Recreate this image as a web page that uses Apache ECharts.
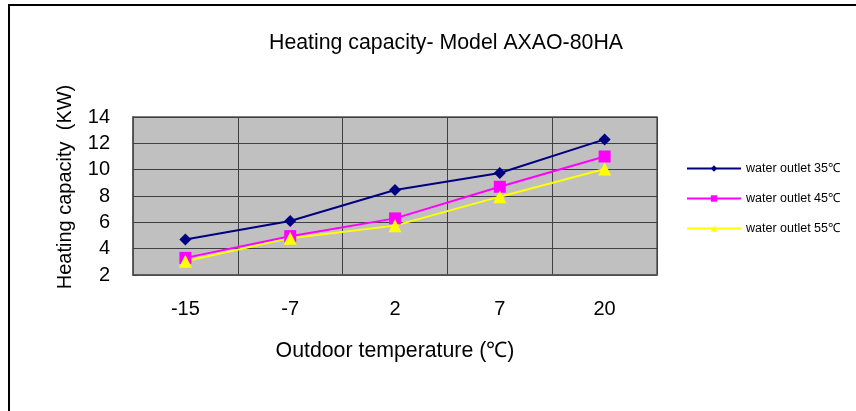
<!DOCTYPE html>
<html>
<head>
<meta charset="utf-8">
<style>
  html, body { margin: 0; padding: 0; background: #fff; }
  #chart { width: 856px; height: 411px; }
</style>
<script src="https://cdn.jsdelivr.net/npm/echarts@6/dist/echarts.min.js"></script>
</head>
<body>
<div id="chart"></div>
<script>
const categories = ['-15', '-7', '2', '7', '20']
const outlet35 = [4.7, 6.1, 8.45, 9.75, 12.3]
const outlet45 = [3.3, 4.95, 6.3, 8.7, 11.0]
const outlet55 = [3.05, 4.8, 5.75, 7.95, 10.05]

const chart = echarts.init(document.getElementById('chart'))
const font = 'Liberation Sans, Arial, sans-serif'

chart.setOption({
  animation: false,
  backgroundColor: '#fff',
  textStyle: { fontFamily: font, color: '#000' },
  graphic: [{
    type: 'rect',
    shape: { x: 9, y: 5, width: 900, height: 500 },
    style: { fill: 'none', stroke: '#000', lineWidth: 2 }
  }],
  title: {
    text: 'Heating capacity- Model AXAO-80HA',
    left: 441,
    textAlign: 'center',
    top: 28,
    textStyle: { fontFamily: font, fontSize: 21.3, fontWeight: 'normal', color: '#000' }
  },
  legend: {
    orient: 'vertical',
    left: 681,
    top: 157,
    itemWidth: 54,
    itemHeight: 8,
    itemGap: 17,
    textStyle: { fontFamily: font, fontSize: 12.5, color: '#000' },
    data: ['water outlet 35℃', 'water outlet 45℃', 'water outlet 55℃']
  },
  grid: {
    left: 133, right: 199, top: 117, bottom: 136,
    show: true,
    backgroundColor: '#c0c0c0',
    borderColor: '#555',
    borderWidth: 1.5
  },
  xAxis: {
    type: 'category',
    data: categories,
    boundaryGap: true,
    name: 'Outdoor temperature (℃)',
    nameLocation: 'middle',
    nameGap: 66,
    nameTextStyle: { fontFamily: font, fontSize: 21.3, color: '#000' },
    axisLine: { show: true, lineStyle: { color: '#555', width: 1.5 } },
    axisTick: { show: false },
    axisLabel: { margin: 24, fontSize: 20, color: '#000', fontFamily: font },
    splitLine: { show: true, interval: 0, lineStyle: { color: '#404040', width: 1 } }
  },
  yAxis: {
    type: 'value',
    min: 2,
    max: 14,
    interval: 2,
    name: 'Heating capacity  (KW)',
    nameLocation: 'middle',
    nameGap: 58,
    nameTextStyle: { fontFamily: font, fontSize: 20, color: '#000', padding: [0, 0, 0, 18] },
    axisLine: { show: true, lineStyle: { color: '#555', width: 1.5 } },
    axisTick: { show: true, inside: true, length: 4, lineStyle: { color: '#404040' } },
    axisLabel: { margin: 23, fontSize: 20, color: '#000', fontFamily: font },
    splitLine: { show: true, lineStyle: { color: '#404040', width: 1 } }
  },
  series: [
    {
      name: 'water outlet 35℃',
      type: 'line',
      data: outlet35,
      symbol: 'diamond',
      symbolSize: 12,
      itemStyle: { color: '#000080' },
      lineStyle: { color: '#000080', width: 2 }
    },
    {
      name: 'water outlet 45℃',
      type: 'line',
      data: outlet45,
      symbol: 'rect',
      symbolSize: 12,
      itemStyle: { color: '#ff00ff' },
      lineStyle: { color: '#ff00ff', width: 2 }
    },
    {
      name: 'water outlet 55℃',
      type: 'line',
      data: outlet55,
      symbol: 'triangle',
      symbolSize: 13,
      itemStyle: { color: '#ffff00' },
      lineStyle: { color: '#ffff00', width: 2 }
    }
  ]
})
</script>
</body>
</html>
